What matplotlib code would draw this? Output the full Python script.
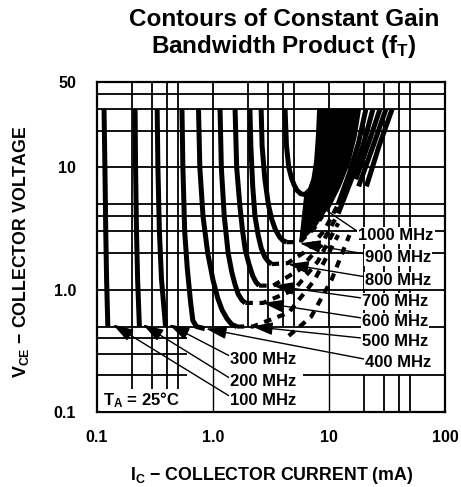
import matplotlib.pyplot as plt
from matplotlib.patches import Polygon
from matplotlib.ticker import NullLocator
import numpy as np

plt.rcParams['font.family'] = ['Liberation Sans', 'DejaVu Sans']
plt.rcParams['font.weight'] = 'bold'
plt.rcParams['mathtext.fontset'] = 'custom'
plt.rcParams['mathtext.rm'] = 'Liberation Sans:bold'
plt.rcParams['mathtext.bf'] = 'Liberation Sans:bold'
plt.rcParams['mathtext.it'] = 'Liberation Sans:bold'

# falling (left) side of each fT contour: Ic (mA), Vce (V)
ic_100 = [0.115, 0.117, 0.119, 0.121, 0.124]
vce_100 = [30, 10, 3, 1.2, 0.5]
ic_200 = [0.213, 0.215, 0.219, 0.224, 0.232]
vce_200 = [30, 10, 3, 1.2, 0.5]
ic_300 = [0.33, 0.335, 0.345, 0.36, 0.39]
vce_300 = [30, 10, 3, 1.2, 0.5]
ic_400 = [0.54, 0.55, 0.57, 0.60, 0.64, 0.67, 0.72, 0.85]
vce_400 = [30, 10, 3, 1.5, 0.8, 0.56, 0.5, 0.48]
ic_500 = [0.75, 0.77, 0.82, 0.9, 1.0, 1.1, 1.2, 1.32, 1.45, 1.6]
vce_500 = [30, 10, 4, 2, 1.2, 0.85, 0.68, 0.58, 0.52, 0.5]
ic_600 = [1.15, 1.18, 1.25, 1.35, 1.45, 1.55, 1.65, 1.78, 1.9]
vce_600 = [30, 10, 4, 2, 1.4, 1.1, 0.92, 0.82, 0.78]
ic_700 = [1.55, 1.6, 1.7, 1.8, 1.9, 2.05, 2.2, 2.35, 2.5]
vce_700 = [30, 10, 5, 3, 2.1, 1.6, 1.3, 1.15, 1.08]
ic_800 = [2.08, 2.12, 2.2, 2.3, 2.45, 2.6, 2.8, 3.0, 3.2]
vce_800 = [30, 15, 7, 4, 2.8, 2.2, 1.85, 1.7, 1.62]
ic_900 = [2.6, 2.65, 2.8, 3.0, 3.2, 3.45, 3.75, 4.0, 4.3]
vce_900 = [30, 15, 8, 5, 3.8, 3.1, 2.7, 2.53, 2.45]
ic_1000 = [4.18, 4.3, 4.5, 4.75, 5.0, 5.3, 5.7, 6.2]
vce_1000 = [30, 15, 10, 8.2, 7.2, 6.5, 6.1, 6.0]

# rising (right) side, from the bottom of the U up into the black band
icr_400 = [4.5, 7, 10.5, 15, 21, 27, 35]
vcer_400 = [0.42, 0.6, 1.2, 2.8, 7, 15, 30]
icr_500 = [1.6, 2.2, 4.5, 7.5, 12, 18, 24, 31]
vcer_500 = [0.5, 0.5, 0.65, 1.2, 2.8, 7, 15, 30]
icr_600 = [1.9, 2.7, 5, 8, 12, 17, 22, 27.5]
vcer_600 = [0.78, 0.78, 1.0, 1.7, 3.5, 8, 16, 30]
icr_700 = [2.5, 3.3, 5.5, 8.5, 12, 16, 20, 23.9]
vcer_700 = [1.08, 1.08, 1.45, 2.3, 4.2, 8.5, 16, 30]
icr_800 = [3.2, 4.4, 6.5, 9, 12, 15, 18, 20.8]
vcer_800 = [1.62, 1.65, 2.1, 3, 5, 9, 16, 30]
icr_900 = [4.3, 5.6, 7.5, 9.5, 12, 14.5, 16.5, 18]
vcer_900 = [2.45, 2.45, 3.2, 4.5, 7, 11, 18, 30]
icr_1000 = [6.2, 6.9, 7.4, 7.8, 8.1, 8.3]
vcer_1000 = [6.0, 6.6, 8, 11, 18, 30]

freq_labels = ['100 MHz', '200 MHz', '300 MHz', '400 MHz', '500 MHz',
               '600 MHz', '700 MHz', '800 MHz', '900 MHz', '1000 MHz']
# arrow tip on the curve, and where the label sits
tip_ic = [0.137, 0.249, 0.417, 0.87, 2.17, 2.7, 3.3, 4.43, 5.62, 6.46]
tip_vce = [0.52, 0.52, 0.52, 0.48, 0.5, 0.78, 1.08, 1.62, 2.4, 5.7]
lab_ic = [1.4, 1.4, 1.4, 20.4, 19.2, 19.2, 19.2, 20.4, 20.4, 17.8]
lab_vce = [0.125, 0.176, 0.267, 0.252, 0.375, 0.547, 0.797, 1.19, 1.83, 2.78]

fig = plt.figure(figsize=(4.61, 4.87), dpi=100)
ax = fig.add_axes([97/461, 1 - 412/487, 348/461, 330/487])
ax.set_xscale('log')
ax.set_yscale('log')
ax.set_xlim(0.1, 100)
ax.set_ylim(0.1, 50)

# the printed grid of the data sheet (partly blanked where the labels sit)
gk = dict(color='black', lw=1.3, zorder=1)
ax.vlines([0.2, 0.3, 0.4, 0.5], 0.1, 50, **gk)
ax.vlines([1, 2, 3, 4, 5, 10, 20, 30, 40, 50], 0.5, 50, **gk)
ax.vlines([1, 10], 0.1, 0.5, color='black', lw=1.0, zorder=1)
ax.vlines([20, 30, 40, 50], 0.1, 0.2, **gk)
ax.hlines([0.5, 1, 2, 3, 4, 5, 10, 20, 30, 40], 0.1, 100, **gk)
ax.hlines([0.2, 0.3, 0.4], 0.1, 0.6, **gk)
ax.hlines([0.2], 6, 100, **gk)

ck = dict(color='black', lw=3.6, solid_capstyle='butt', solid_joinstyle='round',
          zorder=3)
left = [(ic_100, vce_100), (ic_200, vce_200), (ic_300, vce_300),
        (ic_400, vce_400), (ic_500, vce_500), (ic_600, vce_600),
        (ic_700, vce_700), (ic_800, vce_800), (ic_900, vce_900),
        (ic_1000, vce_1000)]
for x, y in left:
    ax.plot(x, y, **ck)

# lower parts of the rising sides are broken up on the sheet
right = [(icr_400, vcer_400), (icr_500, vcer_500), (icr_600, vcer_600),
         (icr_700, vcer_700), (icr_800, vcer_800), (icr_900, vcer_900),
         (icr_1000, vcer_1000)]
for x, y in right:
    x = np.array(x)
    y = np.array(y)
    low = y <= 5
    high = y >= 4
    ax.plot(x[low], y[low], color='black', lw=3.0, ls=(0, (1.8, 1.6)),
            dash_capstyle='butt', zorder=3)
    ax.plot(x[high], y[high], **ck)

# solid black wedge between the 1000 and 900 MHz rising sides
x9 = np.array(icr_900)
y9 = np.array(vcer_900)
keep = x9 >= 5
band = list(zip(icr_1000, vcer_1000)) + list(zip(x9[keep][::-1], y9[keep][::-1]))
ax.add_patch(Polygon(band, closed=True, fc='black', ec='black', lw=1, zorder=3))

for i, lab in enumerate(freq_labels):
    ax.annotate(lab, xy=(tip_ic[i], tip_vce[i]), xytext=(lab_ic[i], lab_vce[i]),
                ha='left', va='center', fontsize=12, fontweight='bold', zorder=5,
                bbox=dict(fc='white', ec='none', pad=0.8),
                arrowprops=dict(arrowstyle='-|>,head_length=0.9,head_width=0.28',
                                color='black', lw=1.0, shrinkA=0, shrinkB=0,
                                relpos=(0, 0.75), mutation_scale=14))

ax.text(0.112, 0.125, r'T$_\mathbf{A}$ = 25$\degree$C', fontsize=12,
        fontweight='bold', ha='left', va='center', zorder=5,
        bbox=dict(fc='white', ec='none', pad=1))

ax.xaxis.set_minor_locator(NullLocator())
ax.yaxis.set_minor_locator(NullLocator())
ax.set_xticks([0.1, 1, 10, 100])
ax.set_xticklabels(['0.1', '1.0', '10', '100'])
ax.set_yticks([0.1, 1, 10, 50])
ax.set_yticklabels(['0.1', '1.0', '10', '50'])
ax.tick_params(length=0, labelsize=11.5)
ax.tick_params(axis='x', pad=13)
ax.tick_params(axis='y', pad=15)
for s in ax.spines.values():
    s.set_linewidth(1.6)

fig.text(272/461, 1 - 475/487, r'I$_\mathbf{C}$ $-$ COLLECTOR CURRENT (mA)',
         fontsize=12.8, fontweight='bold', ha='center', va='center')
fig.text(21/461, 1 - 252/487, r'V$_\mathbf{CE}$ $-$ COLLECTOR VOLTAGE',
         fontsize=12.8, fontweight='bold', ha='center', va='center', rotation=90)

fig.text(284/461, 1 - 20/487, 'Contours of Constant Gain', fontsize=17.5,
         fontweight='bold', ha='center', va='center')
fig.text(284/461, 1 - 47/487, r'Bandwidth Product (f$_\mathbf{T}$)', fontsize=17.5,
         fontweight='bold', ha='center', va='center')

fig.savefig('out.png', dpi=100)
